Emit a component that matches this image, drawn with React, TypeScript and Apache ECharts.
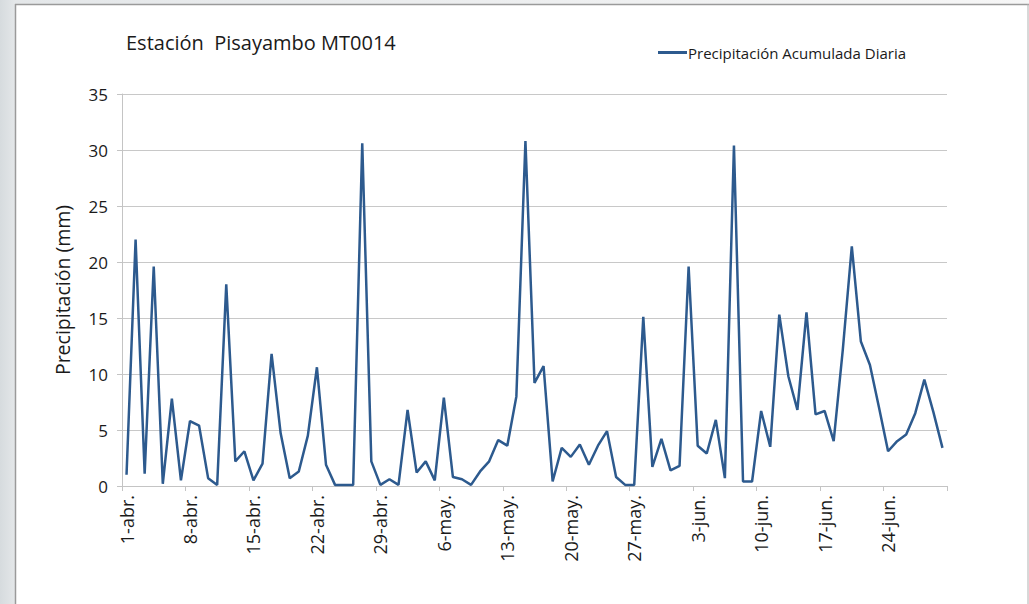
import React, { useEffect, useRef } from "react";
import * as echarts from "echarts";

const titleText = "Estación  Pisayambo MT0014";
const seriesName = "Precipitación Acumulada Diaria";
const yAxisName = "Precipitación (mm)";

const months = [
  { name: "abr.", days: 30 },
  { name: "may.", days: 31 },
  { name: "jun.", days: 30 },
];

const precipitation = [
  1.0, 22.0, 1.1, 19.6, 0.2, 7.8, 0.5, 5.8, 5.4, 0.7,
  0.1, 18.0, 2.2, 3.1, 0.5, 2.0, 11.8, 4.7, 0.7, 1.3,
  4.5, 10.6, 1.9, 0.1, 0.1, 0.1, 30.6, 2.2, 0.1, 0.6,
  0.1, 6.8, 1.2, 2.2, 0.5, 7.9, 0.8, 0.6, 0.1, 1.3,
  2.2, 4.1, 3.6, 8.0, 30.8, 9.2, 10.7, 0.4, 3.4, 2.6,
  3.7, 1.9, 3.6, 4.9, 0.8, 0.1, 0.1, 15.1, 1.7, 4.2,
  1.4, 1.8, 19.6, 3.6, 2.9, 5.9, 0.7, 30.4, 0.4, 0.4,
  6.7, 3.5, 15.3, 9.8, 6.8, 15.5, 6.4, 6.7, 4.0, 12.1,
  21.4, 12.9, 10.8, 7.0, 3.1, 4.0, 4.6, 6.5, 9.5, 6.6,
  3.4,
];

const categories: string[] = [];
months.forEach((m) => {
  for (let d = 1; d <= m.days; d++) categories.push(`${d}-${m.name}`);
});

const FONT = "'Open Sans', 'Noto Sans', sans-serif";

export default function App() {
  const ref = useRef<HTMLDivElement>(null);
  useEffect(() => {
    if (!ref.current) return;
    const chart = echarts.init(ref.current, null, { renderer: "svg" });
    chart.setOption({
      animation: false,
      backgroundColor: "#ffffff",
      textStyle: { fontFamily: FONT },
      title: {
        text: titleText,
        left: 121,
        top: 27,
        textStyle: { fontSize: 20, fontWeight: "normal", color: "#1a1a1a", fontFamily: FONT },
      },
      legend: {
        left: 653,
        top: 40,
        icon: "rect",
        itemWidth: 29,
        itemHeight: 3,
        itemGap: 4,
        textStyle: { fontSize: 15, color: "#1a1a1a", fontFamily: FONT, padding: [0, 0, 0, -4] },
        data: [seriesName],
      },
      graphic: [
        {
          type: "rect",
          shape: { x: 0, y: 0, width: 15, height: 604 },
          style: {
            fill: new echarts.graphic.LinearGradient(0, 0, 1, 0, [
              { offset: 0, color: "#d6dbde" },
              { offset: 1, color: "#e4e7e9" },
            ]),
          },
          silent: true,
        },
        {
          type: "rect",
          shape: { x: 15, y: 0, width: 1014, height: 4 },
          style: {
            fill: new echarts.graphic.LinearGradient(0, 0, 1, 0, [
              { offset: 0, color: "#e4e7e9" },
              { offset: 1, color: "#f6f6f6" },
            ]),
          },
          silent: true,
        },
        {
          type: "line",
          shape: { x1: 15.5, y1: 4, x2: 15.5, y2: 604 },
          style: { stroke: "#9a9a9a", lineWidth: 1.5 },
          silent: true,
        },
        {
          type: "line",
          shape: { x1: 15, y1: 4.5, x2: 1029, y2: 4.5 },
          style: { stroke: "#9a9a9a", lineWidth: 1.5 },
          silent: true,
        },
        {
          type: "line",
          shape: { x1: 1028, y1: 4, x2: 1028, y2: 604 },
          style: { stroke: "#b0b0b0", lineWidth: 1 },
          silent: true,
        },
      ],
      grid: { left: 122, right: 82, top: 94, bottom: 118, containLabel: false },
      xAxis: {
        type: "category",
        data: categories,
        boundaryGap: true,
        axisLine: { show: true, lineStyle: { color: "#c4c4c4", width: 1 } },
        axisTick: { show: true, interval: 6, length: 5, lineStyle: { color: "#c4c4c4" } },
        axisLabel: {
          interval: 6,
          rotate: 90,
          fontSize: 18,
          color: "#1a1a1a",
          margin: 9,
          fontFamily: FONT,
        },
        splitLine: { show: false },
      },
      yAxis: {
        type: "value",
        min: 0,
        max: 35,
        interval: 5,
        name: yAxisName,
        nameLocation: "middle",
        nameGap: 50,
        nameTextStyle: { fontSize: 19.5, color: "#1a1a1a", fontFamily: FONT },
        axisLine: { show: true, lineStyle: { color: "#c4c4c4", width: 1 } },
        axisTick: { show: true, length: 5, lineStyle: { color: "#c4c4c4" } },
        axisLabel: { fontSize: 17, color: "#1a1a1a", margin: 14, fontFamily: FONT },
        splitLine: { show: true, lineStyle: { color: "#c8c8c8", width: 1 } },
      },
      series: [
        {
          name: seriesName,
          type: "line",
          data: precipitation,
          symbol: "none",
          lineStyle: { color: "#2d5a8e", width: 2.5 },
          itemStyle: { color: "#2d5a8e" },
        },
      ],
    });
    return () => chart.dispose();
  }, []);
  return (
    <div
      ref={ref}
      style={{ position: "absolute", left: 0, top: 0, width: 1029, height: 604 }}
    />
  );
}
